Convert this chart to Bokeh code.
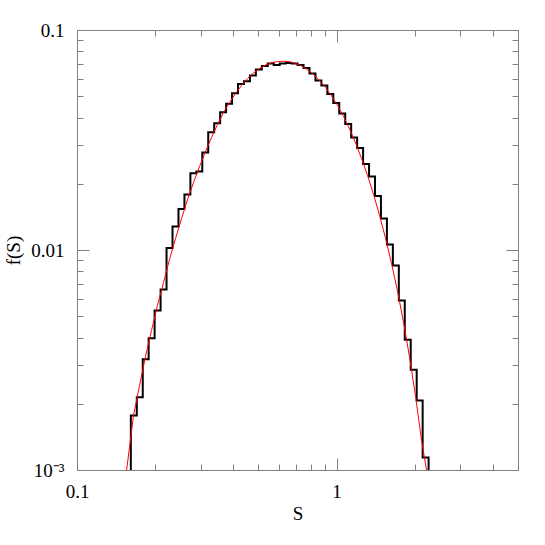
from bokeh.plotting import figure
from bokeh.models import FixedTicker, LogAxis
from bokeh.embed import file_html
from bokeh.resources import INLINE

# histogram bin edges (S) and heights f(S)
bin_edges = [0.1605, 0.1692, 0.1784, 0.1880, 0.1982, 0.2090, 0.2203, 0.2323, 0.2449, 0.2582,
             0.2722, 0.2870, 0.3025, 0.3189, 0.3362, 0.3545, 0.3737, 0.3939, 0.4153, 0.4378,
             0.4616, 0.4866, 0.5130, 0.5409, 0.5702, 0.6012, 0.6338, 0.6682, 0.7044, 0.7427,
             0.7829, 0.8255, 0.8702, 0.9174, 0.9672, 1.0195, 1.0750, 1.1332, 1.1948, 1.2595,
             1.3280, 1.4000, 1.4757, 1.5560, 1.6403, 1.7294, 1.8231, 1.9221, 2.0263, 2.1363,
             2.2521]
hist_values = [0.001778, 0.002153, 0.003204, 0.003994, 0.005337, 0.006648, 0.01027, 0.01286, 0.01544, 0.01797,
               0.02246, 0.02286, 0.02789, 0.03449, 0.03791, 0.04253, 0.04644, 0.05188, 0.05711, 0.05882,
               0.06245, 0.06648, 0.06896, 0.07079, 0.06968, 0.07079, 0.07116, 0.07079, 0.06968, 0.06753,
               0.06376, 0.05926, 0.05623, 0.05145, 0.04683, 0.04195, 0.03758, 0.03263, 0.02923, 0.02472,
               0.02170, 0.01769, 0.01398, 0.01065, 0.008548, 0.005926, 0.003927, 0.002868, 0.002080, 0.001146]

# fitted curve
fit_s = [0.1500, 0.1545, 0.1644, 0.1734, 0.1828, 0.1928, 0.2033, 0.2145, 0.2262, 0.2386, 0.2517,
         0.2654, 0.2799, 0.2952, 0.3113, 0.3284, 0.3463, 0.3652, 0.3852, 0.4063, 0.4285,
         0.4520, 0.4766, 0.5027, 0.5302, 0.5592, 0.5897, 0.6219, 0.6561, 0.6918, 0.7298,
         0.7696, 0.8117, 0.8561, 0.9029, 0.9524, 1.0044, 1.0593, 1.1173, 1.1785, 1.2428,
         1.3108, 1.3826, 1.4582, 1.5379, 1.6218, 1.7105, 1.8043, 1.9029, 2.0068, 2.1165,
         2.2127, 2.2600]
fit_f = [0.00080, 0.001000, 0.001778, 0.002434, 0.003298, 0.004329, 0.005623, 0.007153, 0.009101, 0.011337, 0.013984,
         0.01705, 0.02037, 0.02409, 0.028184, 0.03263, 0.03738, 0.04240, 0.04706, 0.05171, 0.05623,
         0.06050, 0.06410, 0.06719, 0.06968, 0.07131, 0.07229, 0.07251, 0.07214, 0.07094, 0.06896,
         0.06628, 0.06310, 0.05926, 0.05506, 0.05038, 0.04561, 0.04065, 0.03566, 0.03081, 0.02619,
         0.02193, 0.01797, 0.014425, 0.011337, 0.008728, 0.006511, 0.004706, 0.003263, 0.002170, 0.001369,
         0.001000, 0.00080]

x_major = [0.1, 1]
x_minor = [0.2, 0.3, 0.4, 0.5, 0.6, 0.7, 0.8, 0.9, 2, 3, 4, 5]
y_major = [0.001, 0.01, 0.1]
y_minor = [0.002, 0.003, 0.004, 0.005, 0.006, 0.007, 0.008, 0.009,
           0.02, 0.03, 0.04, 0.05, 0.06, 0.07, 0.08, 0.09]
x_labels = {0.1: "0.1", 1: "1"}
y_labels = {0.001: "10\u207b\u00b3", 0.01: "0.01", 0.1: "0.1"}

FONT = "Liberation Serif"
GREY = "#808080"
FLOOR = 0.0004  # below the visible range

p = figure(frame_width=441, frame_height=440,
           x_axis_type="log", y_axis_type="log",
           x_range=(0.1, 5), y_range=(0.001, 0.1),
           min_border_left=68, min_border_right=20,
           min_border_top=30, min_border_bottom=59,
           output_backend="svg", toolbar_location=None,
           background_fill_color="white", border_fill_color="white")
p.grid.visible = False
p.outline_line_color = GREY

# histogram as a step path
hx = [bin_edges[0]]
hy = [FLOOR]
for i, v in enumerate(hist_values):
    hx += [bin_edges[i], bin_edges[i + 1]]
    hy += [v, v]
hx.append(bin_edges[-1])
hy.append(FLOOR)
p.line(hx, hy, line_color="black", line_width=2, line_join="miter")

p.line(fit_s, fit_f, line_color="#ff0000", line_width=1)


def style(ax, ticks, minor, labels, show):
    ax.ticker = FixedTicker(ticks=ticks, minor_ticks=minor)
    ax.axis_line_color = GREY
    ax.major_tick_line_color = GREY
    ax.minor_tick_line_color = GREY
    ax.major_tick_in = 12
    ax.major_tick_out = 0
    ax.minor_tick_in = 6
    ax.minor_tick_out = 0
    if show:
        ax.major_label_overrides = labels
        ax.major_label_text_font = FONT
        ax.major_label_text_font_size = "19px"
        ax.major_label_text_color = "black"
        ax.axis_label_text_font = FONT
        ax.axis_label_text_font_size = "19px"
        ax.axis_label_text_font_style = "normal"
        ax.axis_label_text_color = "black"
    else:
        ax.major_label_text_font_size = "1px"
        ax.major_label_text_color = None
        ax.major_label_standoff = 0


xa = p.xaxis[0]
style(xa, x_major, x_minor, x_labels, True)
xa.axis_label = "S"
xa.major_label_standoff = 14
xa.axis_label_standoff = 2

ya = p.yaxis[0]
style(ya, y_major, y_minor, y_labels, True)
ya.axis_label = "f(S)"
ya.major_label_standoff = 13
ya.axis_label_standoff = 4

top = LogAxis()
style(top, x_major, x_minor, {}, False)
p.add_layout(top, "above")
right = LogAxis()
style(right, y_major, y_minor, {}, False)
p.add_layout(right, "right")

open("out.html", "w").write(file_html(p, INLINE))
